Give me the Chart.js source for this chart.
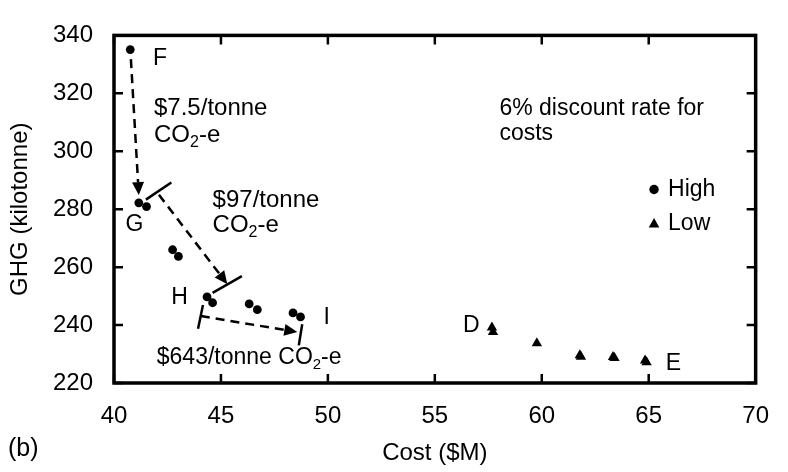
<!DOCTYPE html>
<html>
<head>
<meta charset="utf-8">
<script src="https://cdn.jsdelivr.net/npm/chart.js@4.4.0/dist/chart.umd.min.js"></script>
<style>
  html, body { margin: 0; padding: 0; background: #fff; }
</style>
</head>
<body>
<canvas id="scatterChart" width="788" height="472"></canvas>
<script>
const FONT = "'Liberation Sans', Arial, Helvetica, sans-serif";

// Cost ($M) against GHG (kilotonne) for the two scenarios
const highCost = [40.76, 41.16, 41.52, 42.74, 43.01, 44.35, 44.61, 46.32, 46.70, 48.37, 48.72];
const highGhg  = [335.1, 282.2, 280.9, 266.0, 263.7, 249.7, 247.7, 247.3, 245.3, 244.2, 242.8];
const lowCost  = [57.67, 57.72, 59.77, 61.78, 61.83, 63.33, 63.40, 64.83, 64.90];
const lowGhg   = [239.2, 237.6, 233.7, 229.6, 229.1, 229.0, 228.6, 227.8, 227.2];

const xTicks = [40, 45, 50, 55, 60, 65, 70];
const yTicks = [220, 240, 260, 280, 300, 320, 340];

// point labels (x, y in data units, centred)
const pointLabels = [
    { text: 'F', x: 42.15, y: 332.1 },
    { text: 'G', x: 40.96, y: 274.6 },
    { text: 'H', x: 43.06, y: 249.5 },
    { text: 'I', x: 49.95, y: 242.6 },
    { text: 'D', x: 56.71, y: 239.9 },
    { text: 'E', x: 66.16, y: 226.7 }
];

// marginal abatement cost notes, left aligned; co2 = append "CO2-e"
const rateNotes = [
    { text: '$7.5/tonne', x: 41.87, y: 314.9, size: 24 },
    { text: '', co2: true, x: 41.87, y: 305.4, size: 24 },
    { text: '$97/tonne', x: 44.61, y: 283.2, size: 24 },
    { text: '', co2: true, x: 44.61, y: 274.3, size: 24 },
    { text: '$643/tonne ', co2: true, x: 42.0, y: 228.6, size: 23 },
    { text: '6% discount rate for', x: 58.02, y: 314.6, size: 23 },
    { text: 'costs', x: 58.02, y: 306.0, size: 23 }
];

// legend rows: marker x, row y (data units)
const legendX = 65.25;
const legendRows = [
    { text: 'High', style: 'circle', y: 286.8 },
    { text: 'Low', style: 'triangle', y: 274.9 }
];

// dashed arrows with optional end bars
const arrows = [
    { from: [40.79, 331.8], to: [41.16, 284.9], bars: [] },
    { from: [42.10, 285.0], to: [45.30, 254.1],
      bars: [[[41.49, 283.3], [42.68, 289.2]], [[44.61, 251.1], [45.98, 256.9]]] },
    { from: [44.06, 243.1], to: [48.57, 237.6],
      bars: [[[44.16, 246.9], [43.93, 238.7]], [[48.80, 240.3], [48.64, 233.0]]] }
];

function toPoints(xs, ys) {
    return xs.map((v, i) => ({ x: v, y: ys[i] }));
}

function drawCO2(ctx, x, y, size) {
    ctx.font = size + 'px ' + FONT;
    ctx.fillText('CO', x, y);
    x += ctx.measureText('CO').width;
    ctx.font = Math.round(size * 0.65) + 'px ' + FONT;
    ctx.fillText('2', x, y + size * 0.3);
    x += ctx.measureText('2').width;
    ctx.font = size + 'px ' + FONT;
    ctx.fillText('-e', x, y);
}

const notesPlugin = {
    id: 'notes',
    afterDraw(chart) {
        const { ctx, chartArea: a, scales } = chart;
        const px = v => scales.x.getPixelForValue(v);
        const py = v => scales.y.getPixelForValue(v);
        ctx.save();
        ctx.strokeStyle = '#000';
        ctx.fillStyle = '#000';

        // box round the plot
        ctx.lineWidth = 3.5;
        ctx.strokeRect(a.left, a.top, a.right - a.left, a.bottom - a.top);

        // tick marks pointing inwards on all four sides
        ctx.lineWidth = 2.5;
        ctx.beginPath();
        xTicks.forEach(v => {
            const p = px(v);
            ctx.moveTo(p, a.bottom); ctx.lineTo(p, a.bottom - 9);
            ctx.moveTo(p, a.top); ctx.lineTo(p, a.top + 9);
        });
        yTicks.forEach(v => {
            const p = py(v);
            ctx.moveTo(a.left, p); ctx.lineTo(a.left + 9, p);
            ctx.moveTo(a.right, p); ctx.lineTo(a.right - 9, p);
        });
        ctx.stroke();

        // arrows
        arrows.forEach(ar => {
            const x0 = px(ar.from[0]), y0 = py(ar.from[1]);
            const x1 = px(ar.to[0]), y1 = py(ar.to[1]);
            const ang = Math.atan2(y1 - y0, x1 - x0);
            const headLen = 13, headW = 6;
            const bx = x1 - Math.cos(ang) * headLen, by = y1 - Math.sin(ang) * headLen;
            ctx.lineWidth = 2.5;
            ctx.setLineDash([9, 6]);
            ctx.beginPath();
            ctx.moveTo(x0, y0);
            ctx.lineTo(bx, by);
            ctx.stroke();
            ctx.setLineDash([]);
            ctx.beginPath();
            ctx.moveTo(x1, y1);
            ctx.lineTo(bx + Math.sin(ang) * headW, by - Math.cos(ang) * headW);
            ctx.lineTo(bx - Math.sin(ang) * headW, by + Math.cos(ang) * headW);
            ctx.closePath();
            ctx.fill();
            ar.bars.forEach(b => {
                ctx.beginPath();
                ctx.moveTo(px(b[0][0]), py(b[0][1]));
                ctx.lineTo(px(b[1][0]), py(b[1][1]));
                ctx.stroke();
            });
        });

        // labels
        ctx.textBaseline = 'middle';
        ctx.textAlign = 'center';
        ctx.font = '23px ' + FONT;
        pointLabels.forEach(l => ctx.fillText(l.text, px(l.x), py(l.y)));

        ctx.textAlign = 'left';
        rateNotes.forEach(n => {
            let x = px(n.x);
            const y = py(n.y);
            ctx.font = n.size + 'px ' + FONT;
            if (n.text) {
                ctx.fillText(n.text, x, y);
                x += ctx.measureText(n.text).width;
            }
            if (n.co2) drawCO2(ctx, x, y, n.size);
        });

        // legend
        const lx = px(legendX);
        legendRows.forEach(r => {
            const ly = py(r.y);
            ctx.beginPath();
            if (r.style === 'circle') {
                ctx.arc(lx, ly, 4.7, 0, Math.PI * 2);
            } else {
                ctx.moveTo(lx, ly - 6);
                ctx.lineTo(lx + 5.3, ly + 3.5);
                ctx.lineTo(lx - 5.3, ly + 3.5);
                ctx.closePath();
            }
            ctx.fill();
            ctx.font = '23px ' + FONT;
            ctx.fillText(r.text, lx + 14, ly);
        });

        // panel tag
        ctx.font = '25px ' + FONT;
        ctx.fillText('(b)', 8, 449);
        ctx.restore();
    }
};

const ctx = document.getElementById('scatterChart').getContext('2d');
const scatterChart = new Chart(ctx, {
    type: 'scatter',
    data: {
        datasets: [
            {
                label: 'High',
                data: toPoints(highCost, highGhg),
                backgroundColor: '#000',
                borderColor: '#000',
                pointStyle: 'circle',
                pointRadius: 4.4,
                pointHoverRadius: 4.4,
                borderWidth: 0
            },
            {
                label: 'Low',
                data: toPoints(lowCost, lowGhg),
                backgroundColor: '#000',
                borderColor: '#000',
                pointStyle: 'triangle',
                pointRadius: 6,
                pointHoverRadius: 6,
                borderWidth: 0
            }
        ]
    },
    options: {
        responsive: false,
        animation: false,
        events: [],
        layout: { padding: { top: 20, right: 17, left: 0, bottom: 0 } },
        plugins: {
            legend: { display: false },
            tooltip: { enabled: false }
        },
        scales: {
            x: {
                type: 'linear',
                min: 40,
                max: 70,
                afterBuildTicks: s => { s.ticks = xTicks.map(v => ({ value: v })); },
                afterFit: s => { s.height = 89; },
                grid: { display: false, drawTicks: false },
                border: { display: false },
                ticks: { padding: 19, color: '#000', font: { family: FONT, size: 24 } },
                title: {
                    display: true,
                    text: 'Cost ($M)',
                    color: '#000',
                    font: { family: FONT, size: 24 },
                    padding: { top: 0, bottom: 4 }
                }
            },
            y: {
                type: 'linear',
                min: 220,
                max: 340,
                afterBuildTicks: s => { s.ticks = yTicks.map(v => ({ value: v })); },
                afterFit: s => { s.width = 114; },
                grid: { display: false, drawTicks: false },
                border: { display: false },
                ticks: { padding: 21, color: '#000', font: { family: FONT, size: 24 } },
                title: {
                    display: true,
                    text: 'GHG (kilotonne)',
                    color: '#000',
                    font: { family: FONT, size: 24 },
                    padding: { top: 6, bottom: 0 }
                }
            }
        }
    },
    plugins: [notesPlugin]
});
</script>
</body>
</html>
